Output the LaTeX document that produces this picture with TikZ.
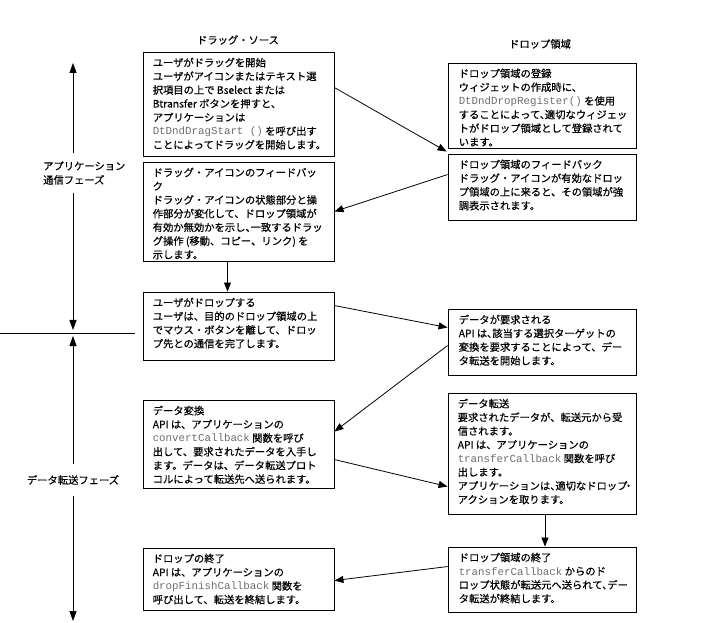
\documentclass[tikz,border=0pt]{standalone}
\usepackage{fontspec}
\setmainfont{Noto Sans CJK JP}[FakeBold=0.5]
\newfontfamily\monofnt{Liberation Mono}
\usetikzlibrary{arrows.meta,calc}
\definecolor{codegray}{RGB}{110,110,110}
\newcommand\codetxt[1]{{\monofnt\fontsize{10.8}{13.7}\selectfont\color{codegray}#1}}
\newcommand\hcomma{、\kern-0.5em}
\tikzset{
  box/.style={draw, line width=0.9pt, inner sep=0pt},
  txt/.style={align=left, inner sep=0pt, anchor=north west, font=\fontsize{10.3}{13.7}\selectfont},
  conn/.style={line width=0.8pt, -{Triangle[length=9pt,width=7pt]}},
  ttl/.style={font=\fontsize{10.3}{13.7}\selectfont, inner sep=0pt},
  phase/.style={align=left, font=\fontsize{10.3}{14}\selectfont, inner xsep=0pt, inner ysep=8pt},
  axis/.style={line width=0.8pt, -{Triangle[length=10pt,width=7pt]}},
}
\begin{document}
\begin{tikzpicture}[x=1pt,y=-1pt]
\useasboundingbox (0,0) rectangle (716,623);

% titles
\node[ttl] (t1) at (238,40) {ドラッグ・ソース};
\node[ttl] (t2) at (540,44) {ドロップ領域};

% boxes
\node[box, minimum width=191pt, minimum height=104pt] (b1) at (238.5,104) {};
\node[box, minimum width=188pt, minimum height=85pt] (b2) at (542,105.5) {};
\node[box, minimum width=191pt, minimum height=99pt] (b3) at (238.5,211.5) {};
\node[box, minimum width=188pt, minimum height=66pt] (b4) at (542,187) {};
\node[box, minimum width=191pt, minimum height=68pt] (b5) at (238.5,326) {};
\node[box, minimum width=188pt, minimum height=66pt] (b6) at (542,342) {};
\node[box, minimum width=191pt, minimum height=88pt] (b7) at (238.5,444) {};
\node[box, minimum width=188pt, minimum height=121pt] (b8) at (542,453.5) {};
\node[box, minimum width=191pt, minimum height=62pt] (b9) at (238.5,579) {};
\node[box, minimum width=188pt, minimum height=65pt] (b10) at (542,579.5) {};

% texts
\node[txt] (x1) at ([shift={(10pt,-6pt)}]b1.north west) {ユーザがドラッグを開始\\ユーザがアイコンまたはテキスト選\\択項目の上で Bselect または\\Btransfer ボタンを押すと、\\アプリケーションは\\\codetxt{DtDndDragStart ()} を呼び出す\\ことによってドラッグを開始します。};
\node[txt] (x2) at ([shift={(11pt,-6pt)}]b2.north west) {ドロップ領域の登録\\ウィジェットの作成時に、\\\codetxt{DtDndDropRegister()} を使用\\することによって\hcomma 適切なウィジェッ\\トがドロップ領域として登録されて\\います。};
\node[txt] (x3) at ([shift={(10pt,-6pt)}]b3.north west) {ドラッグ・アイコンのフィードバッ\\ク\\ドラッグ・アイコンの状態部分と操\\作部分が変化して、ドロップ領域が\\有効か無効かを示し\hcomma 一致するドラッ\\グ操作 (移動、コピー、リンク) を\\示します。};
\node[txt] (x4) at ([shift={(11pt,-6pt)}]b4.north west) {ドロップ領域のフィードバック\\ドラッグ・アイコンが有効なドロッ\\プ領域の上に来ると、その領域が強\\調表示されます。};
\node[txt] (x5) at ([shift={(10pt,-6pt)}]b5.north west) {ユーザがドロップする\\ユーザは、目的のドロップ領域の上\\でマウス・ボタンを離して、ドロッ\\プ先との通信を完了します。};
\node[txt] (x6) at ([shift={(11pt,-6pt)}]b6.north west) {データが要求される\\API は\hcomma 該当する選択ターゲットの\\変換を要求することによって、デー\\タ転送を開始します。};
\node[txt] (x7) at ([shift={(10pt,-6pt)}]b7.north west) {データ変換\\API は、アプリケーションの\\\codetxt{convertCallback} 関数を呼び\\出して、要求されたデータを入手し\\ます。データは、データ転送プロト\\コルによって転送先へ送られます。};
\node[txt] (x8) at ([shift={(10pt,-6pt)}]b8.north west) {データ転送\\要求されたデータが、転送元から受\\信されます。\\API は、アプリケーションの\\\codetxt{transferCallback} 関数を呼び\\出します。\\アプリケーションは\hcomma 適切なドロップ\kern-0.4em・\\アクションを取ります。};
\node[txt] (x9) at ([shift={(10pt,-6pt)}]b9.north west) {ドロップの終了\\API は、アプリケーションの\\\codetxt{dropFinishCallback} 関数を\\呼び出して、転送を終結します。};
\node[txt] (x10) at ([shift={(11pt,-6pt)}]b10.north west) {ドロップ領域の終了\\\codetxt{transferCallback} からのド\\ロップ状態が転送元へ送られて\hcomma デー\\タ転送が終結します。};

% connectors
\draw[conn] ([yshift=-36pt]b1.north east) -- ([shift={(-1pt,2pt)}]b4.north west);
\draw[conn] ([yshift=-21pt]b4.north west) -- (b3.east);
\draw[conn] ([xshift=-11pt]b3.south) -- ([xshift=-11pt]b5.north);
\draw[conn] ([yshift=-14pt]b5.north east) -- ([yshift=-19pt]b6.north west);
\draw[conn] ([yshift=-37pt]b6.north west) -- ([yshift=-32pt]b7.north east);
\draw[conn] ([yshift=-60pt]b7.north east) -- ([yshift=-94pt]b8.north west);
\draw[conn] ([xshift=3pt]b8.south) -- ([xshift=3pt]b10.north);
\draw[conn] ([yshift=-20pt]b10.north west) -- ([yshift=-33pt]b9.north east);

% phase axis
\coordinate (ptop) at (73,63);
\coordinate (pmid1) at (73,330);
\coordinate (pmid2) at (73,336);
\coordinate (pbot) at (73,621);
\coordinate (hl1) at (0,333);
\coordinate (hl2) at (135,333);
\node[phase, anchor=west] (ph1) at (43,173) {アプリケーション\\通信フェーズ};
\node[phase, inner ysep=11pt] (ph2) at (73,480) {データ転送フェーズ};
\draw[axis] (ptop |- ph1.north) -- (ptop);
\draw[axis] (ptop |- ph1.south) -- (pmid1);
\draw[axis] (ph2.north) -- (pmid2);
\draw[axis] (ph2.south) -- (pbot);
\draw[line width=0.9pt] (hl1) -- (hl2);
\end{tikzpicture}
\end{document}
